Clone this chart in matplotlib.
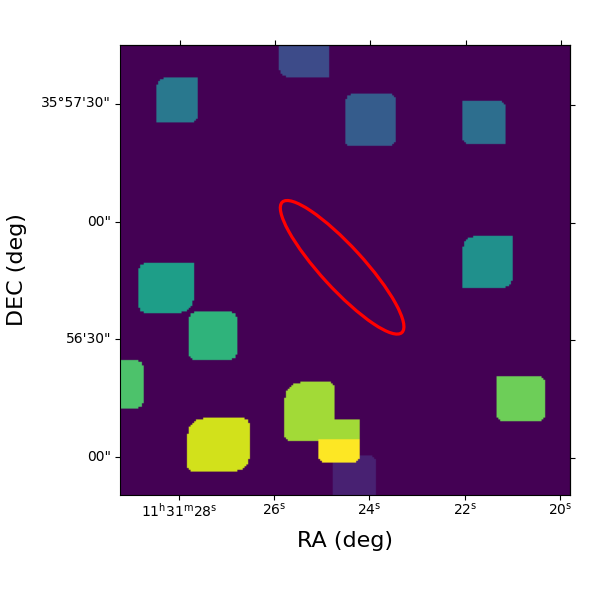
import numpy as np
import matplotlib
matplotlib.use("Agg")
import matplotlib.pyplot as plt
from matplotlib.patches import Ellipse
from matplotlib.transforms import ScaledTranslation

GRID = 250

# segments in image cells (origin lower left), later ones overwrite earlier ones
seg_x0 = [20, 88, 125, 190, 190, 10, 38, -1, 91, 119, 118, 110, 37, 209]
seg_x1 = [43, 116, 153, 214, 218, 41, 65, 13, 119, 133, 142, 133, 72, 236]
seg_y0 = [207, 232, 194, 195, 115, 101, 75, 48, 30, 31, 0, 18, 13, 41]
seg_y1 = [232, 251, 223, 219, 144, 129, 102, 75, 63, 42, 22, 31, 43, 66]
seg_val = [0.40, 0.23, 0.29, 0.36, 0.50, 0.56, 0.65, 0.72, 0.86, 0.86, 0.09, 1.0, 0.93, 0.78]
# corner radius: top left, top right, bottom right, bottom left
seg_cut = [
    (4, 0, 2, 0), (0, 0, 0, 4), (3, 2, 2, 1), (0, 2, 0, 2), (6, 0, 4, 0),
    (3, 0, 7, 3), (3, 3, 3, 2), (0, 3, 3, 0), (9, 2, 0, 2), (0, 0, 0, 0),
    (0, 2, 0, 0), (0, 0, 2, 2), (9, 3, 7, 2), (0, 2, 2, 2),
]

x_ticks_bottom = [32.8, 85.6, 138.3, 191.6, 244.4]
x_ticks_top = [33.3, 86.1, 138.9, 192.3, 244.9]
y_ticks_left = [217.2, 151.5, 86.5, 20.9]
y_ticks_right = [216.5, 150.9, 85.9, 20.3]
x_labels = [r"11$^{\mathrm{h}}$31$^{\mathrm{m}}$28$^{\mathrm{s}}$", r"26$^{\mathrm{s}}$",
            r"24$^{\mathrm{s}}$", r"22$^{\mathrm{s}}$", r"20$^{\mathrm{s}}$"]
y_labels = ["35\u00b057'30\"", '00"', "56'30\"", '00"']

ell_center = (123.4, 126.5)
ell_width = 98.3
ell_height = 23.7
ell_angle = -47.5


def corner(dx, dy, r):
    # dx, dy = distance of a cell from the corner, True if kept
    if r == 0:
        return np.ones_like(dx, dtype=bool)
    a = np.clip(r - dx, 0, None)
    b = np.clip(r - dy, 0, None)
    return a * a + b * b <= r * r


img = np.zeros((GRID + 1, GRID + 1))
yy, xx = np.mgrid[0:GRID + 1, -1:GRID]
for x0, x1, y0, y1, v, c in zip(seg_x0, seg_x1, seg_y0, seg_y1, seg_val, seg_cut):
    mask = (xx >= x0) & (xx < x1) & (yy >= y0) & (yy < y1)
    mask &= corner(xx - x0, y1 - 1 - yy, c[0])
    mask &= corner(x1 - 1 - xx, y1 - 1 - yy, c[1])
    mask &= corner(x1 - 1 - xx, yy - y0, c[2])
    mask &= corner(xx - x0, yy - y0, c[3])
    img[mask] = v

fig = plt.figure(figsize=(6, 6), dpi=100)
ax = fig.add_axes([0.2, 0.175, 0.75, 0.75])
ax.imshow(img, origin="lower", cmap="viridis", vmin=0, vmax=1,
          extent=(-0.8, GRID + 0.2, 0, GRID + 1))
ax.set_xlim(0, GRID)
ax.set_ylim(0, GRID)
ax.add_patch(Ellipse(ell_center, ell_width, ell_height, angle=ell_angle,
                     fill=False, edgecolor="red", linewidth=2.3))

ax.set_xticks(x_ticks_bottom, x_labels)
ax.set_yticks(y_ticks_left, y_labels)
ax.tick_params(axis="x", pad=1.5)
ax.tick_params(axis="y", pad=3)
up = ScaledTranslation(0, 1.5 / 72, fig.dpi_scale_trans)
for lab in ax.get_yticklabels():
    lab.set_transform(lab.get_transform() + up)
ax.set_xlabel("RA (deg)", fontsize=16, labelpad=8)
ax.set_ylabel("DEC (deg)", fontsize=16, labelpad=10.5)

top = ax.secondary_xaxis("top")
top.set_xticks(x_ticks_top, [])
right = ax.secondary_yaxis("right")
right.set_yticks(y_ticks_right, [])

fig.savefig("out.png", dpi=100)
